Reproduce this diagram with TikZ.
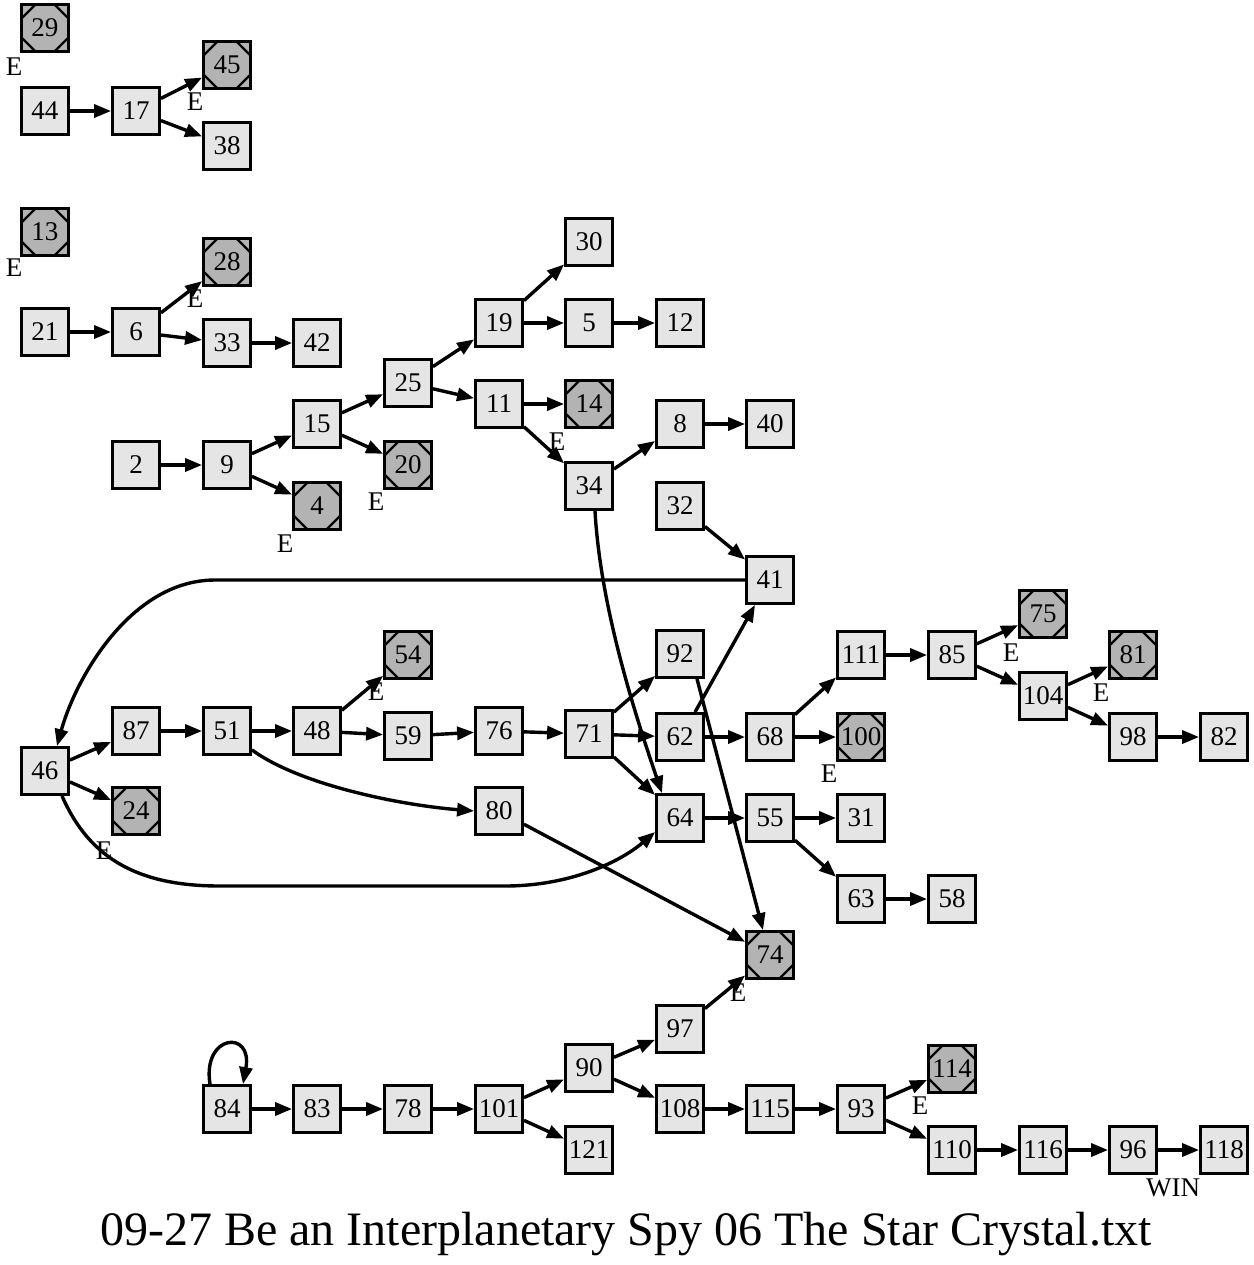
\documentclass[tikz,border=0pt]{standalone}
\usepackage{fontspec}
\setmainfont{Liberation Serif}
\usetikzlibrary{arrows.meta,calc}
\definecolor{gnine}{HTML}{E5E5E5}
\definecolor{gseven}{HTML}{B3B3B3}
\begin{document}
\begin{tikzpicture}[x=0.5pt,y=-0.5pt,
  nd/.style={draw,line width=1.4pt,fill=gnine,minimum size=23.5pt,inner sep=0pt,font=\fontsize{13.5}{16}\selectfont},
  en/.style={nd,fill=gseven,path picture={
     \draw[line width=1.2pt] ([xshift=7pt]path picture bounding box.north west) -- ([yshift=-7pt]path picture bounding box.north west);
     \draw[line width=1.2pt] ([xshift=-7pt]path picture bounding box.north east) -- ([yshift=-7pt]path picture bounding box.north east);
     \draw[line width=1.2pt] ([xshift=7pt]path picture bounding box.south west) -- ([yshift=7pt]path picture bounding box.south west);
     \draw[line width=1.2pt] ([xshift=-7pt]path picture bounding box.south east) -- ([yshift=7pt]path picture bounding box.south east);}},
  edge/.style={line width=1.7pt,-{Triangle[length=8.5pt,width=6.5pt]}},
  lab/.style={inner sep=0pt,font=\fontsize{13.5}{16}\selectfont}]
\useasboundingbox (0,0) rectangle (1254,1265);

% nodes
\node[en] (n29) at (45,28) {29};
\node[nd] (n44) at (45,111) {44};
\node[nd] (n17) at (136,111) {17};
\node[en] (n45) at (227,65) {45};
\node[nd] (n38) at (227,146) {38};
\node[en] (n13) at (45,232) {13};
\node[nd] (n21) at (45,332) {21};
\node[nd] (n6) at (136,332) {6};
\node[en] (n28) at (227,262) {28};
\node[nd] (n33) at (227,343) {33};
\node[nd] (n42) at (317,343) {42};
\node[nd] (n2) at (136,465) {2};
\node[nd] (n9) at (227,465) {9};
\node[nd] (n15) at (317,424) {15};
\node[en] (n4) at (317,506) {4};
\node[nd] (n25) at (408,383) {25};
\node[en] (n20) at (408,465) {20};
\node[nd] (n19) at (499,323) {19};
\node[nd] (n11) at (499,404) {11};
\node[nd] (n30) at (589,242) {30};
\node[nd] (n5) at (589,323) {5};
\node[nd] (n12) at (680,323) {12};
\node[en] (n14) at (589,404) {14};
\node[nd] (n34) at (589,486) {34};
\node[nd] (n8) at (680,424) {8};
\node[nd] (n40) at (770,424) {40};
\node[nd] (n32) at (680,506) {32};
\node[nd] (n41) at (770,580) {41};
\node[nd] (n46) at (45,771) {46};
\node[nd] (n87) at (136,731) {87};
\node[en] (n24) at (136,811) {24};
\node[nd] (n51) at (227,731) {51};
\node[nd] (n48) at (317,731) {48};
\node[en] (n54) at (408,655) {54};
\node[nd] (n59) at (408,736) {59};
\node[nd] (n80) at (499,811) {80};
\node[nd] (n76) at (499,731) {76};
\node[nd] (n71) at (589,734) {71};
\node[nd] (n92) at (680,654) {92};
\node[nd] (n62) at (680,737) {62};
\node[nd] (n64) at (680,818) {64};
\node[nd] (n68) at (770,737) {68};
\node[nd] (n55) at (770,818) {55};
\node[nd] (n111) at (861,655) {111};
\node[en] (n100) at (861,737) {100};
\node[nd] (n31) at (861,818) {31};
\node[nd] (n63) at (861,899) {63};
\node[nd] (n58) at (952,899) {58};
\node[nd] (n85) at (952,655) {85};
\node[en] (n75) at (1043,614) {75};
\node[nd] (n104) at (1043,696) {104};
\node[en] (n81) at (1133,655) {81};
\node[nd] (n98) at (1133,737) {98};
\node[nd] (n82) at (1224,737) {82};
\node[en] (n74) at (770,955) {74};
\node[nd] (n97) at (680,1029) {97};
\node[nd] (n90) at (589,1068) {90};
\node[nd] (n84) at (227,1109) {84};
\node[nd] (n83) at (317,1109) {83};
\node[nd] (n78) at (408,1109) {78};
\node[nd] (n101) at (499,1109) {101};
\node[nd] (n121) at (589,1150) {121};
\node[nd] (n108) at (680,1109) {108};
\node[nd] (n115) at (770,1109) {115};
\node[nd] (n93) at (861,1109) {93};
\node[en] (n114) at (952,1069) {114};
\node[nd] (n110) at (952,1150) {110};
\node[nd] (n116) at (1043,1150) {116};
\node[nd] (n96) at (1133,1150) {96};
\node[nd] (n118) at (1224,1150) {118};

% labels
\node[lab] (l29) at (14,67) {E};
\node[lab] (l45) at (195,102) {E};
\node[lab] (l13) at (14,268) {E};
\node[lab] (l28) at (195,299) {E};
\node[lab] (l4) at (285,544) {E};
\node[lab] (l20) at (376,502) {E};
\node[lab] (l14) at (557,442) {E};
\node[lab] (l54) at (376,692) {E};
\node[lab] (l24) at (104,851) {E};
\node[lab] (l100) at (829,774) {E};
\node[lab] (l75) at (1011,653) {E};
\node[lab] (l81) at (1101,693) {E};
\node[lab] (l74) at (738,993) {E};
\node[lab] (l114) at (920,1106) {E};
\node[lab] (l118) at (1173,1188) {WIN};

% straight edges
\foreach \a/\b in {44/17,17/45,17/38,21/6,6/28,6/33,33/42,2/9,9/15,9/4,15/25,15/20,
  25/19,25/11,19/30,19/5,5/12,11/14,11/34,34/8,8/40,32/41,46/87,46/24,87/51,51/48,
  48/54,48/59,59/76,76/71,71/92,71/62,71/64,62/68,68/111,68/100,111/85,85/75,85/104,
  104/81,104/98,98/82,64/55,55/31,55/63,63/58,80/74,97/74,90/97,90/108,101/90,101/121,
  84/83,83/78,78/101,108/115,115/93,93/114,93/110,110/116,116/96,96/118}
  \draw[edge] (n\a) -- (n\b);

% special edges
\draw[edge] ($(n92.south)+(17,0)$) -- ($(n74.north)+(-7,0)$);
\draw[edge] ($(n62.north)+(15,0)$) -- ($(n41.south)+(-15,0)$);
\draw[edge] (n41.west) -- (215,580) .. controls (130,580) and (75,680) .. ($(n46.north)+(12,0)$);
\draw[edge] ($(n46.south)+(17,0)$) .. controls (90,860) and (140,886) .. (220,886) -- (505,886) .. controls (570,886) and (620,862) .. ($(n64.west)+(0,14)$);
\draw[edge] ($(n51.south east)+(0,-6)$) .. controls (300,785) and (400,805) .. (n80.west);
\draw[edge] ($(n34.south)+(6,0)$) .. controls (600,600) and (630,700) .. ($(n64.north)+(-18,0)$);
\draw[edge] ($(n84.north)+(-17,0)$) .. controls +(-8,-50) and +(10,-55) .. ($(n84.north)+(16,0)$);

% title
\node[anchor=base,inner sep=0pt,font=\fontsize{24}{28}\selectfont] (title) at (626,1245) {09-27 Be an Interplanetary Spy 06 The Star Crystal.txt};
\end{tikzpicture}
\end{document}
